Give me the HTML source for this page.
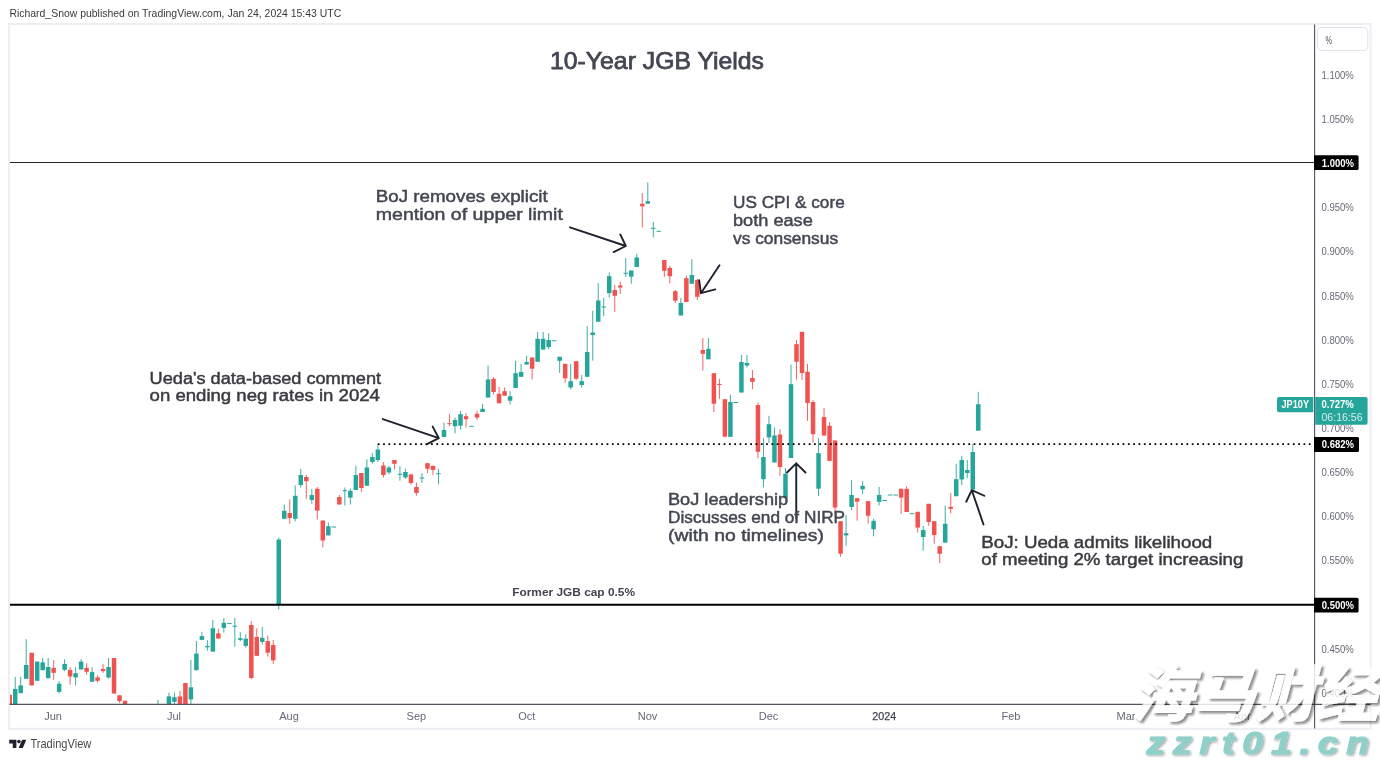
<!DOCTYPE html>
<html lang="en"><head><meta charset="utf-8"><title>10-Year JGB Yields</title>
<style>
html,body{margin:0;padding:0;background:#fff}
body{width:1380px;height:760px;overflow:hidden;position:relative;font-family:"Liberation Sans","Noto Sans CJK SC",sans-serif}
svg{position:absolute;left:0;top:0;display:block}
text{white-space:pre}
</style></head><body>
<svg width="1380" height="760" viewBox="0 0 1380 760">
<rect x="9" y="24" width="1361.6" height="704.8" fill="#fff" stroke="#eceef3" stroke-width="2"/>
<defs><clipPath id="plot"><rect x="10" y="25" width="1304.2" height="679"/></clipPath></defs>
<g clip-path="url(#plot)">
<line x1="9" y1="162.5" x2="1314" y2="162.5" stroke="#262626" stroke-width="1.15"/>
<rect x="9.23" y="693.6" width="1" height="11.8" fill="#ef5350" opacity="0.9"/>
<rect x="7.48" y="694.9" width="4.5" height="10.5" fill="#ef5350"/>
<rect x="14.72" y="676.8" width="1" height="28.6" fill="#26a69a" opacity="0.9"/>
<rect x="12.97" y="688.9" width="4.5" height="16.4" fill="#26a69a"/>
<rect x="20.21" y="676.8" width="1" height="16.3" fill="#26a69a" opacity="0.9"/>
<rect x="18.46" y="685.4" width="4.5" height="7.8" fill="#26a69a"/>
<rect x="25.70" y="639.2" width="1" height="39.6" fill="#26a69a" opacity="0.9"/>
<rect x="23.95" y="665.0" width="4.5" height="13.8" fill="#26a69a"/>
<rect x="31.19" y="652.8" width="1" height="32.6" fill="#ef5350" opacity="0.9"/>
<rect x="29.44" y="652.8" width="4.5" height="32.6" fill="#ef5350"/>
<rect x="36.68" y="661.6" width="1" height="19.2" fill="#26a69a" opacity="0.9"/>
<rect x="34.93" y="661.6" width="4.5" height="19.2" fill="#26a69a"/>
<rect x="42.17" y="658.0" width="1" height="12.1" fill="#26a69a" opacity="0.9"/>
<rect x="40.42" y="662.4" width="4.5" height="7.8" fill="#26a69a"/>
<rect x="47.66" y="658.0" width="1" height="20.1" fill="#26a69a" opacity="0.9"/>
<rect x="45.91" y="667.0" width="4.5" height="11.2" fill="#26a69a"/>
<rect x="53.15" y="660.0" width="1" height="19.7" fill="#ef5350" opacity="0.9"/>
<rect x="51.40" y="667.9" width="4.5" height="4.9" fill="#ef5350"/>
<rect x="58.64" y="681.1" width="1" height="12.2" fill="#26a69a" opacity="0.9"/>
<rect x="56.89" y="683.7" width="4.5" height="8.2" fill="#26a69a"/>
<rect x="64.13" y="659.1" width="1" height="12.1" fill="#26a69a" opacity="0.9"/>
<rect x="62.38" y="663.9" width="4.5" height="5.9" fill="#26a69a"/>
<rect x="69.62" y="667.2" width="1" height="17.4" fill="#ef5350" opacity="0.9"/>
<rect x="67.87" y="669.9" width="4.5" height="6.6" fill="#ef5350"/>
<rect x="75.11" y="667.2" width="1" height="18.2" fill="#26a69a" opacity="0.9"/>
<rect x="73.36" y="673.2" width="4.5" height="4.2" fill="#26a69a"/>
<rect x="80.60" y="659.1" width="1" height="10.4" fill="#26a69a" opacity="0.9"/>
<rect x="78.85" y="661.6" width="4.5" height="7.9" fill="#26a69a"/>
<rect x="86.09" y="663.3" width="1" height="11.4" fill="#ef5350" opacity="0.9"/>
<rect x="84.34" y="667.9" width="4.5" height="3.9" fill="#ef5350"/>
<rect x="91.58" y="667.2" width="1" height="14.5" fill="#26a69a" opacity="0.9"/>
<rect x="89.83" y="672.1" width="4.5" height="9.6" fill="#26a69a"/>
<rect x="97.07" y="675.1" width="1" height="7.5" fill="#ef5350" opacity="0.9"/>
<rect x="95.32" y="677.4" width="4.5" height="3.4" fill="#ef5350"/>
<rect x="102.56" y="664.2" width="1" height="8.7" fill="#ef5350" opacity="0.9"/>
<rect x="100.81" y="668.9" width="4.5" height="2.2" fill="#ef5350"/>
<rect x="108.05" y="658.0" width="1" height="20.4" fill="#26a69a" opacity="0.9"/>
<rect x="106.30" y="667.0" width="4.5" height="10.5" fill="#26a69a"/>
<rect x="113.54" y="658.0" width="1" height="35.5" fill="#ef5350" opacity="0.9"/>
<rect x="111.79" y="658.0" width="4.5" height="35.5" fill="#ef5350"/>
<rect x="119.03" y="695.3" width="1" height="7.5" fill="#ef5350" opacity="0.9"/>
<rect x="117.28" y="695.3" width="4.5" height="5.8" fill="#ef5350"/>
<rect x="124.52" y="700.8" width="1" height="4.6" fill="#ef5350" opacity="0.9"/>
<rect x="122.77" y="700.8" width="4.5" height="4.6" fill="#ef5350"/>
<rect x="157.46" y="699.8" width="1" height="6.0" fill="#26a69a" opacity="0.9"/>
<rect x="155.71" y="705.3" width="4.5" height="1.0" fill="#26a69a"/>
<rect x="168.44" y="692.6" width="1" height="13.2" fill="#26a69a" opacity="0.9"/>
<rect x="166.69" y="696.4" width="4.5" height="9.4" fill="#26a69a"/>
<rect x="173.93" y="692.6" width="1" height="11.5" fill="#26a69a" opacity="0.9"/>
<rect x="172.18" y="697.2" width="4.5" height="4.6" fill="#26a69a"/>
<rect x="179.42" y="690.9" width="1" height="14.9" fill="#ef5350" opacity="0.9"/>
<rect x="177.67" y="696.4" width="4.5" height="9.4" fill="#ef5350"/>
<rect x="184.91" y="683.0" width="1" height="22.8" fill="#ef5350" opacity="0.9"/>
<rect x="183.16" y="683.0" width="4.5" height="22.8" fill="#ef5350"/>
<rect x="190.40" y="659.9" width="1" height="45.0" fill="#26a69a" opacity="0.9"/>
<rect x="188.65" y="687.3" width="4.5" height="12.1" fill="#26a69a"/>
<rect x="195.89" y="641.1" width="1" height="29.1" fill="#26a69a" opacity="0.9"/>
<rect x="194.14" y="653.6" width="4.5" height="16.6" fill="#26a69a"/>
<rect x="201.38" y="631.8" width="1" height="8.0" fill="#26a69a" opacity="0.9"/>
<rect x="199.63" y="636.1" width="4.5" height="3.8" fill="#26a69a"/>
<rect x="206.87" y="640.2" width="1" height="10.4" fill="#26a69a" opacity="0.9"/>
<rect x="205.12" y="645.9" width="4.5" height="1.4" fill="#26a69a"/>
<rect x="212.36" y="619.9" width="1" height="31.7" fill="#26a69a" opacity="0.9"/>
<rect x="210.61" y="628.3" width="4.5" height="23.3" fill="#26a69a"/>
<rect x="217.85" y="628.8" width="1" height="9.8" fill="#ef5350" opacity="0.9"/>
<rect x="216.10" y="633.4" width="4.5" height="5.1" fill="#ef5350"/>
<rect x="223.34" y="618.0" width="1" height="14.7" fill="#26a69a" opacity="0.9"/>
<rect x="221.59" y="622.8" width="4.5" height="5.1" fill="#26a69a"/>
<rect x="227.08" y="623.1" width="4.5" height="1.0" fill="#26a69a"/>
<rect x="234.32" y="618.0" width="1" height="28.7" fill="#26a69a" opacity="0.9"/>
<rect x="232.57" y="625.7" width="4.5" height="1.0" fill="#26a69a"/>
<rect x="239.81" y="632.2" width="1" height="8.9" fill="#26a69a" opacity="0.9"/>
<rect x="238.06" y="638.2" width="4.5" height="1.7" fill="#26a69a"/>
<rect x="245.30" y="634.2" width="1" height="13.3" fill="#26a69a" opacity="0.9"/>
<rect x="243.55" y="638.7" width="4.5" height="7.2" fill="#26a69a"/>
<rect x="250.79" y="621.1" width="1" height="58.2" fill="#ef5350" opacity="0.9"/>
<rect x="249.04" y="625.0" width="4.5" height="53.0" fill="#ef5350"/>
<rect x="256.28" y="628.3" width="1" height="27.5" fill="#ef5350" opacity="0.9"/>
<rect x="254.53" y="637.0" width="4.5" height="18.8" fill="#ef5350"/>
<rect x="261.77" y="627.1" width="1" height="17.6" fill="#26a69a" opacity="0.9"/>
<rect x="260.02" y="637.8" width="4.5" height="4.1" fill="#26a69a"/>
<rect x="267.26" y="635.6" width="1" height="21.0" fill="#ef5350" opacity="0.9"/>
<rect x="265.51" y="641.1" width="4.5" height="11.6" fill="#ef5350"/>
<rect x="272.75" y="639.9" width="1" height="24.0" fill="#ef5350" opacity="0.9"/>
<rect x="271.00" y="645.0" width="4.5" height="15.4" fill="#ef5350"/>
<rect x="278.25" y="537.5" width="1" height="72.0" fill="#26a69a" opacity="0.9"/>
<rect x="276.50" y="539.5" width="4.5" height="65.0" fill="#26a69a"/>
<rect x="283.76" y="504.5" width="1" height="14.2" fill="#26a69a" opacity="0.9"/>
<rect x="282.01" y="510.8" width="4.5" height="8.0" fill="#26a69a"/>
<rect x="289.27" y="499.5" width="1" height="24.2" fill="#ef5350" opacity="0.9"/>
<rect x="287.52" y="513.0" width="4.5" height="5.0" fill="#ef5350"/>
<rect x="294.77" y="485.5" width="1" height="35.8" fill="#26a69a" opacity="0.9"/>
<rect x="293.02" y="495.8" width="4.5" height="23.0" fill="#26a69a"/>
<rect x="300.28" y="468.8" width="1" height="18.8" fill="#26a69a" opacity="0.9"/>
<rect x="298.53" y="475.0" width="4.5" height="10.0" fill="#26a69a"/>
<rect x="305.79" y="475.0" width="1" height="23.8" fill="#ef5350" opacity="0.9"/>
<rect x="304.04" y="477.0" width="4.5" height="4.2" fill="#ef5350"/>
<rect x="311.30" y="488.8" width="1" height="15.0" fill="#26a69a" opacity="0.9"/>
<rect x="309.55" y="495.0" width="4.5" height="5.0" fill="#26a69a"/>
<rect x="316.81" y="487.0" width="1" height="32.5" fill="#ef5350" opacity="0.9"/>
<rect x="315.06" y="488.8" width="4.5" height="21.8" fill="#ef5350"/>
<rect x="322.31" y="520.5" width="1" height="27.0" fill="#ef5350" opacity="0.9"/>
<rect x="320.56" y="520.5" width="4.5" height="20.0" fill="#ef5350"/>
<rect x="327.82" y="522.5" width="1" height="13.0" fill="#26a69a" opacity="0.9"/>
<rect x="326.07" y="526.2" width="4.5" height="9.2" fill="#26a69a"/>
<rect x="331.58" y="526.5" width="4.5" height="1.0" fill="#26a69a"/>
<rect x="338.84" y="495.0" width="1" height="9.5" fill="#ef5350" opacity="0.9"/>
<rect x="337.09" y="497.0" width="4.5" height="7.5" fill="#ef5350"/>
<rect x="344.35" y="487.5" width="1" height="18.0" fill="#26a69a" opacity="0.9"/>
<rect x="342.60" y="490.2" width="4.5" height="1.0" fill="#26a69a"/>
<rect x="349.85" y="488.8" width="1" height="15.8" fill="#26a69a" opacity="0.9"/>
<rect x="348.10" y="490.8" width="4.5" height="6.8" fill="#26a69a"/>
<rect x="355.36" y="465.8" width="1" height="24.2" fill="#26a69a" opacity="0.9"/>
<rect x="353.61" y="475.0" width="4.5" height="15.0" fill="#26a69a"/>
<rect x="360.87" y="473.0" width="1" height="18.8" fill="#ef5350" opacity="0.9"/>
<rect x="359.12" y="473.0" width="4.5" height="15.0" fill="#ef5350"/>
<rect x="366.38" y="459.2" width="1" height="26.5" fill="#26a69a" opacity="0.9"/>
<rect x="364.63" y="467.5" width="4.5" height="18.2" fill="#26a69a"/>
<rect x="371.89" y="453.2" width="1" height="10.5" fill="#26a69a" opacity="0.9"/>
<rect x="370.14" y="457.0" width="4.5" height="5.0" fill="#26a69a"/>
<rect x="377.39" y="444.2" width="1" height="17.8" fill="#26a69a" opacity="0.9"/>
<rect x="375.64" y="449.5" width="4.5" height="10.5" fill="#26a69a"/>
<rect x="382.90" y="462.0" width="1" height="15.5" fill="#ef5350" opacity="0.9"/>
<rect x="381.15" y="465.5" width="4.5" height="9.5" fill="#ef5350"/>
<rect x="388.41" y="465.8" width="1" height="8.5" fill="#26a69a" opacity="0.9"/>
<rect x="386.66" y="467.5" width="4.5" height="5.0" fill="#26a69a"/>
<rect x="393.92" y="460.0" width="1" height="9.5" fill="#ef5350" opacity="0.9"/>
<rect x="392.17" y="460.0" width="4.5" height="3.8" fill="#ef5350"/>
<rect x="399.43" y="466.2" width="1" height="14.5" fill="#26a69a" opacity="0.9"/>
<rect x="397.68" y="473.8" width="4.5" height="1.0" fill="#26a69a"/>
<rect x="404.93" y="468.8" width="1" height="10.0" fill="#26a69a" opacity="0.9"/>
<rect x="403.18" y="472.0" width="4.5" height="5.5" fill="#26a69a"/>
<rect x="410.44" y="473.8" width="1" height="10.8" fill="#ef5350" opacity="0.9"/>
<rect x="408.69" y="474.5" width="4.5" height="8.5" fill="#ef5350"/>
<rect x="415.95" y="482.5" width="1" height="13.2" fill="#ef5350" opacity="0.9"/>
<rect x="414.20" y="487.0" width="4.5" height="6.0" fill="#ef5350"/>
<rect x="421.46" y="473.0" width="1" height="10.0" fill="#26a69a" opacity="0.9"/>
<rect x="419.71" y="477.5" width="4.5" height="1.0" fill="#26a69a"/>
<rect x="426.97" y="463.2" width="1" height="9.8" fill="#ef5350" opacity="0.9"/>
<rect x="425.22" y="463.2" width="4.5" height="5.5" fill="#ef5350"/>
<rect x="432.47" y="465.8" width="1" height="9.2" fill="#ef5350" opacity="0.9"/>
<rect x="430.72" y="465.8" width="4.5" height="4.2" fill="#ef5350"/>
<rect x="437.98" y="468.8" width="1" height="15.5" fill="#26a69a" opacity="0.9"/>
<rect x="436.23" y="473.2" width="4.5" height="1.0" fill="#26a69a"/>
<rect x="443.49" y="422.5" width="1" height="14.5" fill="#26a69a" opacity="0.9"/>
<rect x="441.74" y="430.0" width="4.5" height="7.0" fill="#26a69a"/>
<rect x="449.00" y="414.2" width="1" height="12.0" fill="#ef5350" opacity="0.9"/>
<rect x="447.25" y="423.2" width="4.5" height="1.0" fill="#ef5350"/>
<rect x="454.51" y="417.5" width="1" height="15.8" fill="#26a69a" opacity="0.9"/>
<rect x="452.76" y="420.0" width="4.5" height="6.2" fill="#26a69a"/>
<rect x="460.01" y="410.8" width="1" height="18.8" fill="#26a69a" opacity="0.9"/>
<rect x="458.26" y="414.2" width="4.5" height="11.5" fill="#26a69a"/>
<rect x="465.52" y="413.2" width="1" height="14.2" fill="#ef5350" opacity="0.9"/>
<rect x="463.77" y="416.2" width="4.5" height="3.0" fill="#ef5350"/>
<rect x="469.28" y="425.8" width="4.5" height="1.0" fill="#26a69a"/>
<rect x="476.54" y="410.8" width="1" height="9.2" fill="#ef5350" opacity="0.9"/>
<rect x="474.79" y="413.8" width="4.5" height="3.8" fill="#ef5350"/>
<rect x="482.05" y="403.8" width="1" height="8.2" fill="#26a69a" opacity="0.9"/>
<rect x="480.30" y="408.8" width="4.5" height="3.2" fill="#26a69a"/>
<rect x="487.55" y="365.5" width="1" height="32.0" fill="#26a69a" opacity="0.9"/>
<rect x="485.80" y="379.5" width="4.5" height="18.0" fill="#26a69a"/>
<rect x="493.06" y="377.0" width="1" height="17.5" fill="#ef5350" opacity="0.9"/>
<rect x="491.31" y="378.8" width="4.5" height="13.2" fill="#ef5350"/>
<rect x="498.57" y="386.8" width="1" height="16.5" fill="#ef5350" opacity="0.9"/>
<rect x="496.82" y="393.8" width="4.5" height="9.5" fill="#ef5350"/>
<rect x="504.08" y="387.5" width="1" height="8.2" fill="#ef5350" opacity="0.9"/>
<rect x="502.33" y="391.2" width="4.5" height="4.5" fill="#ef5350"/>
<rect x="509.59" y="391.2" width="1" height="13.2" fill="#26a69a" opacity="0.9"/>
<rect x="507.84" y="396.2" width="4.5" height="4.5" fill="#26a69a"/>
<rect x="515.09" y="360.8" width="1" height="27.2" fill="#26a69a" opacity="0.9"/>
<rect x="513.34" y="373.2" width="4.5" height="14.8" fill="#26a69a"/>
<rect x="520.60" y="363.8" width="1" height="13.0" fill="#26a69a" opacity="0.9"/>
<rect x="518.85" y="372.0" width="4.5" height="4.8" fill="#26a69a"/>
<rect x="526.11" y="355.8" width="1" height="8.8" fill="#26a69a" opacity="0.9"/>
<rect x="524.36" y="362.0" width="4.5" height="2.5" fill="#26a69a"/>
<rect x="531.62" y="357.5" width="1" height="22.0" fill="#ef5350" opacity="0.9"/>
<rect x="529.87" y="357.5" width="4.5" height="11.2" fill="#ef5350"/>
<rect x="537.13" y="332.0" width="1" height="29.8" fill="#26a69a" opacity="0.9"/>
<rect x="535.38" y="338.8" width="4.5" height="23.0" fill="#26a69a"/>
<rect x="542.63" y="332.0" width="1" height="17.5" fill="#26a69a" opacity="0.9"/>
<rect x="540.88" y="338.8" width="4.5" height="10.8" fill="#26a69a"/>
<rect x="548.14" y="333.2" width="1" height="16.2" fill="#26a69a" opacity="0.9"/>
<rect x="546.39" y="340.0" width="4.5" height="7.0" fill="#26a69a"/>
<rect x="551.90" y="340.2" width="4.5" height="1.0" fill="#26a69a"/>
<rect x="559.16" y="356.8" width="1" height="16.2" fill="#26a69a" opacity="0.9"/>
<rect x="557.41" y="356.8" width="4.5" height="4.0" fill="#26a69a"/>
<rect x="564.67" y="363.8" width="1" height="18.8" fill="#ef5350" opacity="0.9"/>
<rect x="562.92" y="363.8" width="4.5" height="14.5" fill="#ef5350"/>
<rect x="570.17" y="363.8" width="1" height="25.5" fill="#26a69a" opacity="0.9"/>
<rect x="568.42" y="381.2" width="4.5" height="6.2" fill="#26a69a"/>
<rect x="575.68" y="361.2" width="1" height="18.8" fill="#ef5350" opacity="0.9"/>
<rect x="573.93" y="361.2" width="4.5" height="17.5" fill="#ef5350"/>
<rect x="581.19" y="375.0" width="1" height="12.5" fill="#26a69a" opacity="0.9"/>
<rect x="579.44" y="381.2" width="4.5" height="3.8" fill="#26a69a"/>
<rect x="586.70" y="326.2" width="1" height="50.5" fill="#26a69a" opacity="0.9"/>
<rect x="584.95" y="352.0" width="4.5" height="24.8" fill="#26a69a"/>
<rect x="592.21" y="310.8" width="1" height="49.8" fill="#26a69a" opacity="0.9"/>
<rect x="590.46" y="332.5" width="4.5" height="2.5" fill="#26a69a"/>
<rect x="597.71" y="283.2" width="1" height="38.5" fill="#26a69a" opacity="0.9"/>
<rect x="595.96" y="300.5" width="4.5" height="21.2" fill="#26a69a"/>
<rect x="603.22" y="298.0" width="1" height="18.2" fill="#26a69a" opacity="0.9"/>
<rect x="601.47" y="306.5" width="4.5" height="1.0" fill="#26a69a"/>
<rect x="608.73" y="272.5" width="1" height="25.0" fill="#26a69a" opacity="0.9"/>
<rect x="606.98" y="276.2" width="4.5" height="17.0" fill="#26a69a"/>
<rect x="614.24" y="285.0" width="1" height="26.8" fill="#ef5350" opacity="0.9"/>
<rect x="612.49" y="290.0" width="4.5" height="5.8" fill="#ef5350"/>
<rect x="619.75" y="281.8" width="1" height="12.0" fill="#ef5350" opacity="0.9"/>
<rect x="618.00" y="285.5" width="4.5" height="2.0" fill="#ef5350"/>
<rect x="625.25" y="258.0" width="1" height="18.8" fill="#26a69a" opacity="0.9"/>
<rect x="623.50" y="272.8" width="4.5" height="1.0" fill="#26a69a"/>
<rect x="630.76" y="270.5" width="1" height="13.2" fill="#26a69a" opacity="0.9"/>
<rect x="629.01" y="270.5" width="4.5" height="6.2" fill="#26a69a"/>
<rect x="636.27" y="253.8" width="1" height="13.2" fill="#26a69a" opacity="0.9"/>
<rect x="634.52" y="257.5" width="4.5" height="9.5" fill="#26a69a"/>
<rect x="641.78" y="193.0" width="1" height="34.5" fill="#ef5350" opacity="0.9"/>
<rect x="640.03" y="203.8" width="4.5" height="2.5" fill="#ef5350"/>
<rect x="647.29" y="182.5" width="1" height="21.2" fill="#26a69a" opacity="0.9"/>
<rect x="645.54" y="201.2" width="4.5" height="2.5" fill="#26a69a"/>
<rect x="652.79" y="222.0" width="1" height="15.5" fill="#26a69a" opacity="0.9"/>
<rect x="651.04" y="227.8" width="4.5" height="1.0" fill="#26a69a"/>
<rect x="656.55" y="230.8" width="4.5" height="1.0" fill="#26a69a"/>
<rect x="663.81" y="260.0" width="1" height="17.0" fill="#ef5350" opacity="0.9"/>
<rect x="662.06" y="260.0" width="4.5" height="10.8" fill="#ef5350"/>
<rect x="669.32" y="265.8" width="1" height="17.5" fill="#ef5350" opacity="0.9"/>
<rect x="667.57" y="268.0" width="4.5" height="8.2" fill="#ef5350"/>
<rect x="674.83" y="290.0" width="1" height="13.2" fill="#ef5350" opacity="0.9"/>
<rect x="673.08" y="291.2" width="4.5" height="9.5" fill="#ef5350"/>
<rect x="680.33" y="298.0" width="1" height="17.5" fill="#26a69a" opacity="0.9"/>
<rect x="678.58" y="303.0" width="4.5" height="12.5" fill="#26a69a"/>
<rect x="685.84" y="275.5" width="1" height="26.5" fill="#ef5350" opacity="0.9"/>
<rect x="684.09" y="278.2" width="4.5" height="23.8" fill="#ef5350"/>
<rect x="691.35" y="259.2" width="1" height="24.5" fill="#26a69a" opacity="0.9"/>
<rect x="689.60" y="275.0" width="4.5" height="8.8" fill="#26a69a"/>
<rect x="696.86" y="278.8" width="1" height="21.2" fill="#ef5350" opacity="0.9"/>
<rect x="695.11" y="280.0" width="4.5" height="16.8" fill="#ef5350"/>
<rect x="702.37" y="338.0" width="1" height="32.5" fill="#ef5350" opacity="0.9"/>
<rect x="700.62" y="350.0" width="4.5" height="3.8" fill="#ef5350"/>
<rect x="707.87" y="338.0" width="1" height="21.2" fill="#26a69a" opacity="0.9"/>
<rect x="706.12" y="348.8" width="4.5" height="10.5" fill="#26a69a"/>
<rect x="713.38" y="373.2" width="1" height="38.8" fill="#ef5350" opacity="0.9"/>
<rect x="711.63" y="373.2" width="4.5" height="30.5" fill="#ef5350"/>
<rect x="718.89" y="378.8" width="1" height="20.0" fill="#ef5350" opacity="0.9"/>
<rect x="717.14" y="384.0" width="4.5" height="1.0" fill="#ef5350"/>
<rect x="724.40" y="399.2" width="1" height="37.5" fill="#ef5350" opacity="0.9"/>
<rect x="722.65" y="399.2" width="4.5" height="37.5" fill="#ef5350"/>
<rect x="729.91" y="395.0" width="1" height="41.8" fill="#26a69a" opacity="0.9"/>
<rect x="728.16" y="402.0" width="4.5" height="34.8" fill="#26a69a"/>
<rect x="733.66" y="402.0" width="4.5" height="1.0" fill="#26a69a"/>
<rect x="740.92" y="355.0" width="1" height="37.5" fill="#26a69a" opacity="0.9"/>
<rect x="739.17" y="362.0" width="4.5" height="30.5" fill="#26a69a"/>
<rect x="746.43" y="355.0" width="1" height="12.5" fill="#26a69a" opacity="0.9"/>
<rect x="744.68" y="363.0" width="4.5" height="2.5" fill="#26a69a"/>
<rect x="751.94" y="370.0" width="1" height="19.2" fill="#ef5350" opacity="0.9"/>
<rect x="750.19" y="378.0" width="4.5" height="3.8" fill="#ef5350"/>
<rect x="757.45" y="402.5" width="1" height="55.8" fill="#ef5350" opacity="0.9"/>
<rect x="755.70" y="405.0" width="4.5" height="46.8" fill="#ef5350"/>
<rect x="762.95" y="438.2" width="1" height="49.2" fill="#26a69a" opacity="0.9"/>
<rect x="761.20" y="457.0" width="4.5" height="22.2" fill="#26a69a"/>
<rect x="768.46" y="415.8" width="1" height="27.2" fill="#26a69a" opacity="0.9"/>
<rect x="766.71" y="424.2" width="4.5" height="13.2" fill="#26a69a"/>
<rect x="773.97" y="427.5" width="1" height="35.0" fill="#26a69a" opacity="0.9"/>
<rect x="772.22" y="435.5" width="4.5" height="27.0" fill="#26a69a"/>
<rect x="779.48" y="429.2" width="1" height="46.5" fill="#ef5350" opacity="0.9"/>
<rect x="777.73" y="434.5" width="4.5" height="32.5" fill="#ef5350"/>
<rect x="784.99" y="468.2" width="1" height="30.0" fill="#26a69a" opacity="0.9"/>
<rect x="783.24" y="473.8" width="4.5" height="24.5" fill="#26a69a"/>
<rect x="790.49" y="364.5" width="1" height="93.5" fill="#26a69a" opacity="0.9"/>
<rect x="788.74" y="384.2" width="4.5" height="73.8" fill="#26a69a"/>
<rect x="796.00" y="340.0" width="1" height="39.5" fill="#ef5350" opacity="0.9"/>
<rect x="794.25" y="344.2" width="4.5" height="17.5" fill="#ef5350"/>
<rect x="801.51" y="331.8" width="1" height="48.2" fill="#ef5350" opacity="0.9"/>
<rect x="799.76" y="331.8" width="4.5" height="41.2" fill="#ef5350"/>
<rect x="807.02" y="363.8" width="1" height="57.0" fill="#ef5350" opacity="0.9"/>
<rect x="805.27" y="371.8" width="4.5" height="31.2" fill="#ef5350"/>
<rect x="812.53" y="400.0" width="1" height="42.5" fill="#ef5350" opacity="0.9"/>
<rect x="810.78" y="402.0" width="4.5" height="32.2" fill="#ef5350"/>
<rect x="818.03" y="438.2" width="1" height="58.0" fill="#26a69a" opacity="0.9"/>
<rect x="816.28" y="453.2" width="4.5" height="35.5" fill="#26a69a"/>
<rect x="823.54" y="408.0" width="1" height="27.5" fill="#ef5350" opacity="0.9"/>
<rect x="821.79" y="417.0" width="4.5" height="18.5" fill="#ef5350"/>
<rect x="829.05" y="422.0" width="1" height="38.8" fill="#ef5350" opacity="0.9"/>
<rect x="827.30" y="425.8" width="4.5" height="35.0" fill="#ef5350"/>
<rect x="834.56" y="440.5" width="1" height="77.0" fill="#ef5350" opacity="0.9"/>
<rect x="832.81" y="440.5" width="4.5" height="67.0" fill="#ef5350"/>
<rect x="840.07" y="521.2" width="1" height="35.5" fill="#ef5350" opacity="0.9"/>
<rect x="838.32" y="521.2" width="4.5" height="32.5" fill="#ef5350"/>
<rect x="845.57" y="515.0" width="1" height="30.8" fill="#26a69a" opacity="0.9"/>
<rect x="843.82" y="533.2" width="4.5" height="2.2" fill="#26a69a"/>
<rect x="851.08" y="480.0" width="1" height="30.0" fill="#26a69a" opacity="0.9"/>
<rect x="849.33" y="495.0" width="4.5" height="12.0" fill="#26a69a"/>
<rect x="856.59" y="498.2" width="1" height="22.5" fill="#ef5350" opacity="0.9"/>
<rect x="854.84" y="498.2" width="4.5" height="3.5" fill="#ef5350"/>
<rect x="862.10" y="481.2" width="1" height="13.0" fill="#26a69a" opacity="0.9"/>
<rect x="860.35" y="485.8" width="4.5" height="3.5" fill="#26a69a"/>
<rect x="867.61" y="501.2" width="1" height="22.5" fill="#ef5350" opacity="0.9"/>
<rect x="865.86" y="501.2" width="4.5" height="14.5" fill="#ef5350"/>
<rect x="873.11" y="518.8" width="1" height="17.5" fill="#26a69a" opacity="0.9"/>
<rect x="871.36" y="520.8" width="4.5" height="8.5" fill="#26a69a"/>
<rect x="878.62" y="487.0" width="1" height="18.5" fill="#26a69a" opacity="0.9"/>
<rect x="876.87" y="495.0" width="4.5" height="6.8" fill="#26a69a"/>
<rect x="882.38" y="500.0" width="4.5" height="1.0" fill="#26a69a"/>
<rect x="887.89" y="494.5" width="4.5" height="1.0" fill="#26a69a"/>
<rect x="893.40" y="494.5" width="4.5" height="1.0" fill="#26a69a"/>
<rect x="900.65" y="488.8" width="1" height="25.0" fill="#ef5350" opacity="0.9"/>
<rect x="898.90" y="488.8" width="4.5" height="8.8" fill="#ef5350"/>
<rect x="906.16" y="486.2" width="1" height="25.8" fill="#ef5350" opacity="0.9"/>
<rect x="904.41" y="488.8" width="4.5" height="23.2" fill="#ef5350"/>
<rect x="909.92" y="513.2" width="4.5" height="1.0" fill="#26a69a"/>
<rect x="917.18" y="511.8" width="1" height="20.8" fill="#ef5350" opacity="0.9"/>
<rect x="915.43" y="511.8" width="4.5" height="15.8" fill="#ef5350"/>
<rect x="922.69" y="525.8" width="1" height="25.0" fill="#26a69a" opacity="0.9"/>
<rect x="920.94" y="530.0" width="4.5" height="7.0" fill="#26a69a"/>
<rect x="928.19" y="503.8" width="1" height="22.0" fill="#ef5350" opacity="0.9"/>
<rect x="926.44" y="503.8" width="4.5" height="18.2" fill="#ef5350"/>
<rect x="933.70" y="521.2" width="1" height="22.5" fill="#ef5350" opacity="0.9"/>
<rect x="931.95" y="521.2" width="4.5" height="13.8" fill="#ef5350"/>
<rect x="939.21" y="546.2" width="1" height="16.8" fill="#ef5350" opacity="0.9"/>
<rect x="937.46" y="546.2" width="4.5" height="7.5" fill="#ef5350"/>
<rect x="944.72" y="505.5" width="1" height="37.0" fill="#26a69a" opacity="0.9"/>
<rect x="942.97" y="523.8" width="4.5" height="18.8" fill="#26a69a"/>
<rect x="950.23" y="493.0" width="1" height="20.2" fill="#ef5350" opacity="0.9"/>
<rect x="948.48" y="506.8" width="4.5" height="2.0" fill="#ef5350"/>
<rect x="955.73" y="463.8" width="1" height="32.5" fill="#26a69a" opacity="0.9"/>
<rect x="953.98" y="479.2" width="4.5" height="17.0" fill="#26a69a"/>
<rect x="961.24" y="455.8" width="1" height="29.2" fill="#26a69a" opacity="0.9"/>
<rect x="959.49" y="460.0" width="4.5" height="19.5" fill="#26a69a"/>
<rect x="966.75" y="460.0" width="1" height="18.0" fill="#26a69a" opacity="0.9"/>
<rect x="965.00" y="470.0" width="4.5" height="3.0" fill="#26a69a"/>
<rect x="972.26" y="444.2" width="1" height="45.2" fill="#26a69a" opacity="0.9"/>
<rect x="970.51" y="452.0" width="4.5" height="37.5" fill="#26a69a"/>
<rect x="977.77" y="391.8" width="1" height="39.0" fill="#26a69a" opacity="0.9"/>
<rect x="976.02" y="404.2" width="4.5" height="26.5" fill="#26a69a"/>
<line x1="9" y1="604.8" x2="1314" y2="604.8" stroke="#000" stroke-width="1.9"/>
<line x1="377.8" y1="444.2" x2="1314" y2="444.2" stroke="#000" stroke-width="1.8" stroke-dasharray="1.77 3.55"/>
<path d="M382.8 419.1L438.8 438.2M432.7 426.6L438.8 438.2L426.5 444.4" fill="none" stroke="#1e222d" stroke-width="1.9" stroke-linecap="round" stroke-linejoin="round"/>
<path d="M570 227.3L625.8 246M620.3 234.4L625.8 246L613.6 252.1" fill="none" stroke="#1e222d" stroke-width="1.9" stroke-linecap="round" stroke-linejoin="round"/>
<path d="M719.5 265.3L700.9 293.2M699.2 280.3L700.9 293.2L715.3 289.4" fill="none" stroke="#1e222d" stroke-width="1.9" stroke-linecap="round" stroke-linejoin="round"/>
<path d="M796.25 518.5L796.25 463.3M787 472.5L796.25 463.3L805.5 472.5" fill="none" stroke="#1e222d" stroke-width="1.9" stroke-linecap="round" stroke-linejoin="round"/>
<path d="M983.5 524.5L971.8 490.2M966.25 501.75L971.8 490.2L984.25 495.75" fill="none" stroke="#1e222d" stroke-width="1.9" stroke-linecap="round" stroke-linejoin="round"/>
</g>
<g font-family="Liberation Sans, sans-serif">
<text x="9.4" y="17.0" font-size="11" font-weight="normal" fill="#3a3a3a" text-anchor="start" textLength="331.8" lengthAdjust="spacingAndGlyphs" >Richard_Snow published on TradingView.com, Jan 24, 2024 15:43 UTC</text>
<text x="550.0" y="68.5" font-size="24" font-weight="normal" fill="#434651" text-anchor="start" textLength="214.0" lengthAdjust="spacingAndGlyphs" stroke="#434651" stroke-width="0.75" >10-Year JGB Yields</text>
<text x="375.8" y="201.8" font-size="16" font-weight="normal" fill="#434651" text-anchor="start" textLength="171.9" lengthAdjust="spacingAndGlyphs" stroke="#434651" stroke-width="0.45" >BoJ removes explicit</text>
<text x="375.8" y="219.6" font-size="16" font-weight="normal" fill="#434651" text-anchor="start" textLength="187.1" lengthAdjust="spacingAndGlyphs" stroke="#434651" stroke-width="0.45" >mention of upper limit</text>
<text x="733.0" y="208.1" font-size="16" font-weight="normal" fill="#434651" text-anchor="start" textLength="111.7" lengthAdjust="spacingAndGlyphs" stroke="#434651" stroke-width="0.45" >US CPI &amp; core</text>
<text x="733.0" y="225.8" font-size="16" font-weight="normal" fill="#434651" text-anchor="start" textLength="79.8" lengthAdjust="spacingAndGlyphs" stroke="#434651" stroke-width="0.45" >both ease</text>
<text x="733.0" y="243.5" font-size="16" font-weight="normal" fill="#434651" text-anchor="start" textLength="105.1" lengthAdjust="spacingAndGlyphs" stroke="#434651" stroke-width="0.45" >vs consensus</text>
<text x="149.6" y="383.7" font-size="16" font-weight="normal" fill="#3a3b40" text-anchor="start" textLength="231.5" lengthAdjust="spacingAndGlyphs" stroke="#3a3b40" stroke-width="0.45" >Ueda's data-based comment</text>
<text x="149.6" y="401.2" font-size="16" font-weight="normal" fill="#3a3b40" text-anchor="start" textLength="230.3" lengthAdjust="spacingAndGlyphs" stroke="#3a3b40" stroke-width="0.45" >on ending neg rates in 2024</text>
<text x="668.0" y="505.4" font-size="16" font-weight="normal" fill="#434651" text-anchor="start" textLength="120.2" lengthAdjust="spacingAndGlyphs" stroke="#434651" stroke-width="0.45" >BoJ leadership</text>
<text x="668.0" y="523.4" font-size="16" font-weight="normal" fill="#434651" text-anchor="start" textLength="177.1" lengthAdjust="spacingAndGlyphs" stroke="#434651" stroke-width="0.45" >Discusses end of NIRP</text>
<text x="668.0" y="540.9" font-size="16" font-weight="normal" fill="#434651" text-anchor="start" textLength="156.0" lengthAdjust="spacingAndGlyphs" stroke="#434651" stroke-width="0.45" >(with no timelines)</text>
<text x="981.3" y="547.6" font-size="16" font-weight="normal" fill="#3a3b40" text-anchor="start" textLength="230.9" lengthAdjust="spacingAndGlyphs" stroke="#3a3b40" stroke-width="0.45" >BoJ: Ueda admits likelihood</text>
<text x="981.3" y="565.2" font-size="16" font-weight="normal" fill="#3a3b40" text-anchor="start" textLength="262.0" lengthAdjust="spacingAndGlyphs" stroke="#3a3b40" stroke-width="0.45" >of meeting 2% target increasing</text>
<text x="512.2" y="595.6" font-size="11.5" font-weight="bold" fill="#434651" text-anchor="start" textLength="122.8" lengthAdjust="spacingAndGlyphs" >Former JGB cap 0.5%</text>
<line x1="1314.6" y1="24.5" x2="1314.6" y2="728.5" stroke="#50535e" stroke-width="1.1"/>
<line x1="9.5" y1="704.4" x2="1370.6" y2="704.4" stroke="#50535e" stroke-width="1.1"/>
<rect x="1317.5" y="27.5" width="50.3" height="23" rx="4" fill="#fff" stroke="#e0e3eb" stroke-width="1"/>
<text x="1325.5" y="43.5" font-size="10.5" font-weight="normal" fill="#50535e" text-anchor="start" textLength="6.5" lengthAdjust="spacingAndGlyphs" >%</text>
<text x="1321.5" y="78.9" font-size="11" font-weight="normal" fill="#666974" text-anchor="start" textLength="32.3" lengthAdjust="spacingAndGlyphs" >1.100%</text>
<text x="1321.5" y="123.0" font-size="11" font-weight="normal" fill="#666974" text-anchor="start" textLength="32.3" lengthAdjust="spacingAndGlyphs" >1.050%</text>
<text x="1321.5" y="211.3" font-size="11" font-weight="normal" fill="#666974" text-anchor="start" textLength="32.3" lengthAdjust="spacingAndGlyphs" >0.950%</text>
<text x="1321.5" y="255.4" font-size="11" font-weight="normal" fill="#666974" text-anchor="start" textLength="32.3" lengthAdjust="spacingAndGlyphs" >0.900%</text>
<text x="1321.5" y="299.5" font-size="11" font-weight="normal" fill="#666974" text-anchor="start" textLength="32.3" lengthAdjust="spacingAndGlyphs" >0.850%</text>
<text x="1321.5" y="343.6" font-size="11" font-weight="normal" fill="#666974" text-anchor="start" textLength="32.3" lengthAdjust="spacingAndGlyphs" >0.800%</text>
<text x="1321.5" y="387.7" font-size="11" font-weight="normal" fill="#666974" text-anchor="start" textLength="32.3" lengthAdjust="spacingAndGlyphs" >0.750%</text>
<text x="1321.5" y="431.9" font-size="11" font-weight="normal" fill="#666974" text-anchor="start" textLength="32.3" lengthAdjust="spacingAndGlyphs" >0.700%</text>
<text x="1321.5" y="476.0" font-size="11" font-weight="normal" fill="#666974" text-anchor="start" textLength="32.3" lengthAdjust="spacingAndGlyphs" >0.650%</text>
<text x="1321.5" y="520.1" font-size="11" font-weight="normal" fill="#666974" text-anchor="start" textLength="32.3" lengthAdjust="spacingAndGlyphs" >0.600%</text>
<text x="1321.5" y="564.2" font-size="11" font-weight="normal" fill="#666974" text-anchor="start" textLength="32.3" lengthAdjust="spacingAndGlyphs" >0.550%</text>
<text x="1321.5" y="652.5" font-size="11" font-weight="normal" fill="#666974" text-anchor="start" textLength="32.3" lengthAdjust="spacingAndGlyphs" >0.450%</text>
<text x="1321.5" y="696.6" font-size="11" font-weight="normal" fill="#666974" text-anchor="start" textLength="32.3" lengthAdjust="spacingAndGlyphs" >0.400%</text>
<path d="M1314 155.2h43a1.6 1.6 0 0 1 1.6 1.6v11.6a1.6 1.6 0 0 1 -1.6 1.6h-43z" fill="#000"/>
<text x="1321.8" y="166.7" font-size="10.8" font-weight="bold" fill="#fff" text-anchor="start" textLength="32.2" lengthAdjust="spacingAndGlyphs" >1.000%</text>
<path d="M1314 597.7h43a1.6 1.6 0 0 1 1.6 1.6v11.6a1.6 1.6 0 0 1 -1.6 1.6h-43z" fill="#000"/>
<text x="1321.8" y="609.1" font-size="10.8" font-weight="bold" fill="#fff" text-anchor="start" textLength="32.2" lengthAdjust="spacingAndGlyphs" >0.500%</text>
<path d="M1279 397h34.3v15.3h-34.3a2 2 0 0 1 -2 -2v-11.3a2 2 0 0 1 2 -2z" fill="#26a69a"/>
<text x="1281.5" y="408.4" font-size="10.8" font-weight="bold" fill="#fff" text-anchor="start" textLength="27.5" lengthAdjust="spacingAndGlyphs" >JP10Y</text>
<path d="M1315.2 397h50.4a2 2 0 0 1 2 2v23.7a2 2 0 0 1 -2 2h-50.4z" fill="#26a69a"/>
<text x="1321.5" y="408.4" font-size="10.8" font-weight="bold" fill="#fff" text-anchor="start" textLength="32.3" lengthAdjust="spacingAndGlyphs" >0.727%</text>
<text x="1321.5" y="420.7" font-size="10.8" font-weight="normal" fill="#d4edeb" text-anchor="start" textLength="41.0" lengthAdjust="spacingAndGlyphs" >06:16:56</text>
<path d="M1314 437h43.4a1.6 1.6 0 0 1 1.6 1.6v11.8a1.6 1.6 0 0 1 -1.6 1.6h-43.4z" fill="#000"/>
<text x="1321.8" y="448.3" font-size="10.8" font-weight="bold" fill="#fff" text-anchor="start" textLength="32.2" lengthAdjust="spacingAndGlyphs" >0.682%</text>
<text x="53.0" y="720.0" font-size="11" font-weight="normal" fill="#666974" text-anchor="middle" >Jun</text>
<text x="174.0" y="720.0" font-size="11" font-weight="normal" fill="#666974" text-anchor="middle" >Jul</text>
<text x="289.0" y="720.0" font-size="11" font-weight="normal" fill="#666974" text-anchor="middle" >Aug</text>
<text x="416.4" y="720.0" font-size="11" font-weight="normal" fill="#666974" text-anchor="middle" >Sep</text>
<text x="526.7" y="720.0" font-size="11" font-weight="normal" fill="#666974" text-anchor="middle" >Oct</text>
<text x="647.6" y="720.0" font-size="11" font-weight="normal" fill="#666974" text-anchor="middle" >Nov</text>
<text x="768.5" y="720.0" font-size="11" font-weight="normal" fill="#666974" text-anchor="middle" >Dec</text>
<text x="1011.0" y="720.0" font-size="11" font-weight="normal" fill="#666974" text-anchor="middle" >Feb</text>
<text x="1126.0" y="720.0" font-size="11" font-weight="normal" fill="#666974" text-anchor="middle" >Mar</text>
<text x="1242.0" y="720.0" font-size="11" font-weight="normal" fill="#666974" text-anchor="middle" >Apr</text>
<text x="884.3" y="720.0" font-size="11" font-weight="normal" fill="#434651" text-anchor="middle" textLength="23.9" lengthAdjust="spacingAndGlyphs" stroke="#434651" stroke-width="0.25" >2024</text>
<g fill="#1e222d"><path d="M9.2 739.8h7.2v8.2h-3.6v-4.6h-3.6z"/><circle cx="18.9" cy="741.6" r="1.8"/><path d="M22.1 739.8h4.2l-3.5 8.2h-4.2z"/></g>
<text x="30.4" y="747.7" font-size="12" font-weight="normal" fill="#4a4a4a" text-anchor="start" textLength="60.9" lengthAdjust="spacingAndGlyphs" >TradingView</text>
</g>
<g font-family="Liberation Sans, Noto Sans CJK SC, sans-serif" font-weight="bold" font-style="italic">
<filter id="sh" x="-5%" y="-10%" width="115%" height="130%"><feDropShadow dx="2.4" dy="2.4" stdDeviation="1.0" flood-color="#000" flood-opacity="0.55"/></filter>
<g opacity="0.82"><text x="1131" y="716" font-size="60" fill="#fff" stroke="#fff" stroke-width="1.4" stroke-linejoin="round" filter="url(#sh)" textLength="247" lengthAdjust="spacingAndGlyphs">海马财经</text></g>
<filter id="sh2" x="-5%" y="-10%" width="115%" height="130%"><feDropShadow dx="1.2" dy="1.2" stdDeviation="0.8" flood-color="#000" flood-opacity="0.35"/></filter>
<text transform="translate(1146.5 754.4) scale(1.2 1)" font-size="31" fill="#8fd0c9" stroke="#8fd0c9" stroke-width="1.1" filter="url(#sh2)" textLength="185.5" lengthAdjust="spacing">zzrt01.cn</text>
</g>
</svg>
</body></html>
